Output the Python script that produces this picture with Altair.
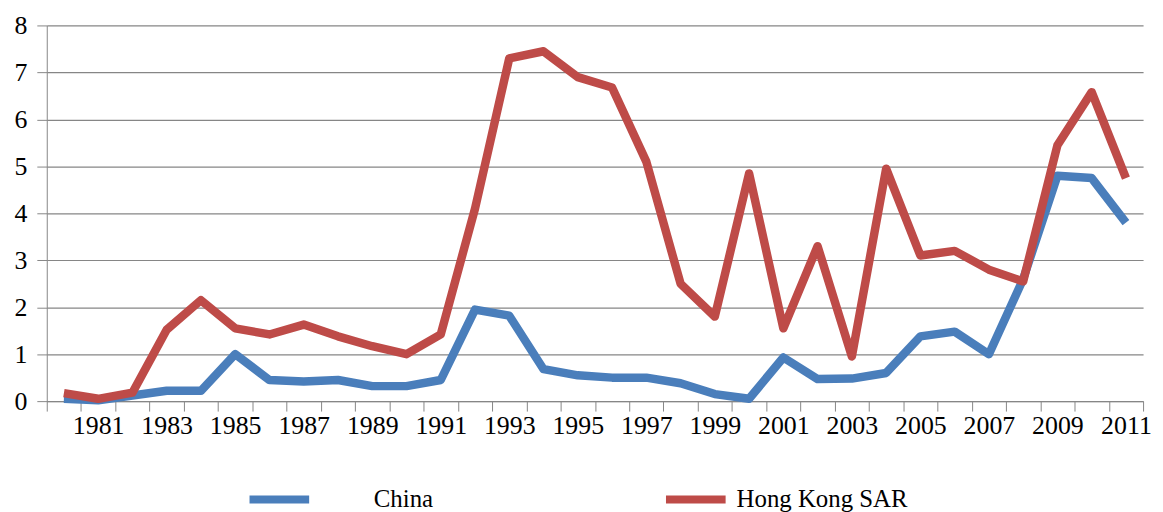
import altair as alt
import pandas as pd

years = [str(y) for y in range(1980, 2012)]
china = [0.05, 0.02, 0.12, 0.22, 0.22, 1.0, 0.45, 0.42, 0.45, 0.32, 0.32, 0.45,
         1.95, 1.82, 0.68, 0.55, 0.5, 0.5, 0.38, 0.15, 0.05, 0.93, 0.47, 0.48,
         0.6, 1.38, 1.48, 1.0, 2.6, 4.8, 4.75, 3.8]
hongkong = [0.17, 0.05, 0.18, 1.52, 2.15, 1.55, 1.42, 1.63, 1.38, 1.17, 1.0, 1.42,
            4.1, 7.3, 7.45, 6.9, 6.68, 5.1, 2.5, 1.8, 4.85, 1.55, 3.3, 0.95,
            4.95, 3.1, 3.2, 2.8, 2.55, 5.45, 6.58, 4.75]
series = ["China", "Hong Kong SAR"]
colors = ["#4a7ebb", "#be4b48"]

font = "Liberation Serif"

x_enc = alt.X("year:O", title=None, bandPosition=0.5,
              scale=alt.Scale(type="band", paddingInner=0, paddingOuter=0),
              axis=alt.Axis(tickBand="extent", labelAngle=0,
                            labelExpr="parseInt(datum.value) % 2 == 1 ? datum.value : ''",
                            tickSize=10, labelPadding=2, labelFontSize=26, labelFont=font,
                            labelColor="black", domainColor="#868686", tickColor="#868686",
                            grid=False, labelOverlap=False))
y_enc = alt.Y("value:Q", title=None,
              scale=alt.Scale(domain=[0, 8], nice=False),
              axis=alt.Axis(values=[0, 1, 2, 3, 4, 5, 6, 7, 8], tickSize=10, labelPadding=10,
                            labelFontSize=26, labelColor="black", labelFont=font,
                            domainColor="#868686", tickColor="#868686",
                            gridColor="#868686", gridWidth=1.2))


def layer(name, vals, color, lx, offset):
    df = pd.DataFrame({"year": years, "value": vals, "series": [name] * len(years)})
    return alt.Chart(df).mark_line(
        strokeWidth=8.5, strokeJoin="round", strokeCap="butt"
    ).encode(
        x=x_enc, y=y_enc,
        color=alt.Color("series:N", scale=alt.Scale(domain=[name], range=[color]),
                        legend=alt.Legend(title=None, orient="none", direction="horizontal",
                                          legendX=lx, legendY=443,
                                          symbolType="stroke", symbolSize=3600,
                                          symbolStrokeWidth=8, labelOffset=offset,
                                          labelFont=font, labelFontSize=25,
                                          labelColor="black", labelLimit=400))
    )


chart = alt.layer(
    layer(series[0], china, colors[0], 200, 61),
    layer(series[1], hongkong, colors[1], 619, 7),
).resolve_scale(color="independent").properties(
    width=1103, height=378,
    autosize=alt.AutoSizeParams(type="none"),
    padding={"left": 39, "top": 16, "right": 12, "bottom": 110}
).configure_view(stroke=None)

chart.save("out.html", embed_options={"renderer": "svg", "actions": False})
